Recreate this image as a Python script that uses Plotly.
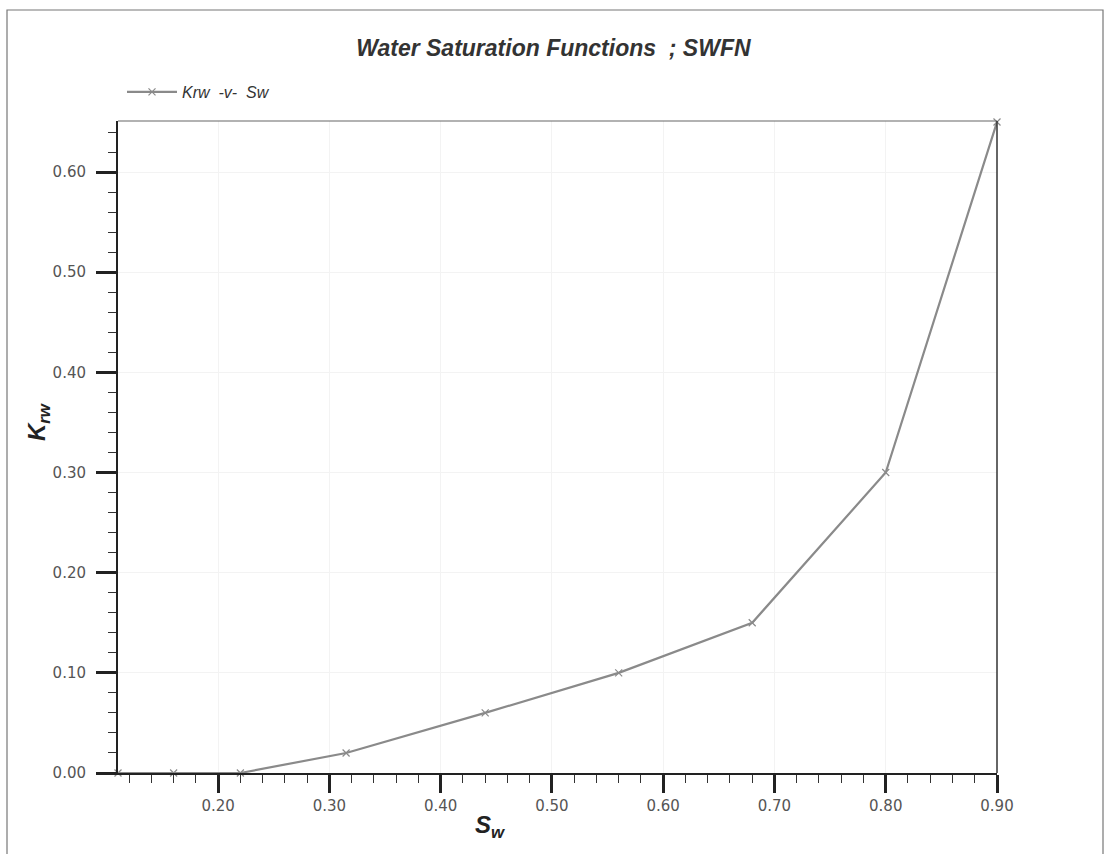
import plotly.graph_objects as go

sw = [0.11, 0.16, 0.22, 0.315, 0.44, 0.56, 0.68, 0.80, 0.90]
krw = [0.0, 0.0, 0.0, 0.02, 0.06, 0.10, 0.15, 0.30, 0.65]

x_ticks = [0.20, 0.30, 0.40, 0.50, 0.60, 0.70, 0.80, 0.90]
y_ticks = [0.00, 0.10, 0.20, 0.30, 0.40, 0.50, 0.60]

W, H = 1108, 854
L, R, T, B = 118, 111, 121, 81
pw, ph = W - L - R, H - T - B

def px(xp):
    return (xp - L) / pw

def py(yp):
    return (H - B - yp) / ph

fig = go.Figure()
fig.add_trace(go.Scatter(
    x=sw, y=krw, mode="lines+markers", name="<i>Krw  -v-  Sw</i>",
    line=dict(color="#8a8a8a", width=2.2),
    marker=dict(symbol="x-thin", size=7, line=dict(color="#8a8a8a", width=1.2)),
    cliponaxis=False,
))

tickfont = dict(family="DejaVu Sans", size=15, color="#555555")
fig.update_xaxes(
    range=[0.11, 0.90], tickvals=x_ticks, ticktext=[f"{v:.2f}" for v in x_ticks],
    ticks="outside", ticklen=18, tickwidth=2.5, tickcolor="#222222",
    minor=dict(dtick=0.02, tick0=0.0, ticks="outside", ticklen=8, tickwidth=1.2, tickcolor="#333333"),
    showline=True, linecolor="#222222", linewidth=2, mirror=False,
    showgrid=True, gridcolor="#f3f3f3", gridwidth=1, zeroline=False,
    tickfont=tickfont,
)
fig.update_yaxes(
    range=[0.0, 0.651], tickvals=y_ticks, ticktext=[f"{v:.2f}" for v in y_ticks],
    ticks="outside", ticklen=20, tickwidth=2.5, tickcolor="#222222",
    minor=dict(dtick=0.02, tick0=0.0, ticks="outside", ticklen=8, tickwidth=1.2, tickcolor="#333333"),
    showline=True, linecolor="#222222", linewidth=2, mirror=False,
    showgrid=True, gridcolor="#f3f3f3", gridwidth=1, zeroline=False,
    tickfont=tickfont, ticklabelstandoff=7,
)

shapes = [
    dict(type="rect", xref="paper", yref="paper", x0=px(7), x1=px(1103), y0=py(870), y1=py(10),
         line=dict(color="#777777", width=1.2), fillcolor="rgba(0,0,0,0)", layer="below"),
    dict(type="line", xref="paper", yref="paper", x0=0, x1=1, y0=1, y1=1,
         line=dict(color="#666666", width=1.2)),
    dict(type="line", xref="paper", yref="paper", x0=1, x1=1, y0=0, y1=1,
         line=dict(color="#333333", width=1.5)),
]

annotations = [
    dict(text="<b><i>K</i></b><sub><b><i>rw</i></b></sub>", xref="paper", yref="paper",
         x=px(38), y=py(422), xanchor="center", yanchor="middle", showarrow=False, textangle=-90,
         font=dict(family="Liberation Sans", size=24, color="#222222")),
    dict(text="<b><i>S</i></b><sub><b><i>w</i></b></sub>", xref="paper", yref="paper",
         x=px(490), y=py(826), xanchor="center", yanchor="middle", showarrow=False,
         font=dict(family="Liberation Sans", size=24, color="#222222")),
]

fig.update_layout(
    width=W, height=H,
    margin=dict(l=L, r=R, t=T, b=B),
    paper_bgcolor="white", plot_bgcolor="white",
    title=dict(text="<b><i>Water Saturation Functions  ; SWFN</i></b>",
               x=px(557), xanchor="center", y=1 - 48 / H, yanchor="middle",
               font=dict(family="Liberation Sans Narrow, Liberation Sans", size=23, color="#333333")),
    showlegend=True,
    legend=dict(x=px(122), y=py(92), xanchor="left", yanchor="middle",
                bgcolor="rgba(0,0,0,0)", itemwidth=50,
                font=dict(family="Liberation Sans Narrow, Liberation Sans", size=16, color="#333333")),
    shapes=shapes, annotations=annotations,
)

fig.write_html("out.html", config={"displayModeBar": False},
               post_script="document.body.style.margin='0px';")
